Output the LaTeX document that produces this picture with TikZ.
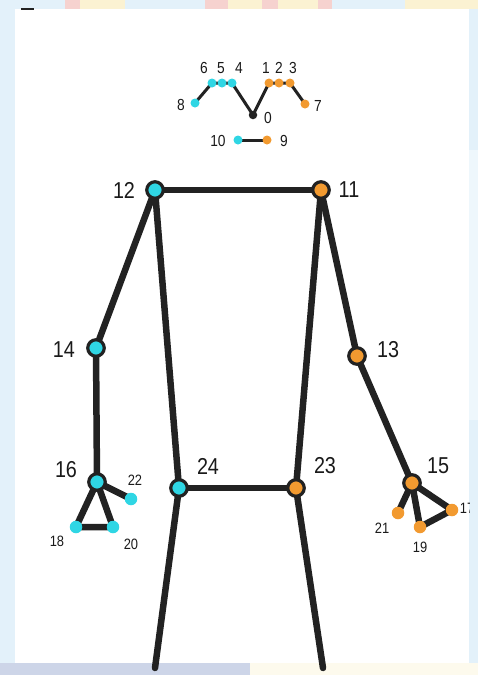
\documentclass[tikz,border=0pt]{standalone}
\usepackage{fontspec}
\setmainfont{Liberation Sans}[FakeStretch=0.86]
\definecolor{cyanc}{HTML}{2FD6E4}
\definecolor{orangec}{HTML}{F29A30}
\definecolor{linec}{HTML}{222222}
\definecolor{textc}{HTML}{1A1A1A}
\definecolor{bgblue}{HTML}{E3F1FA}
\definecolor{bgpink}{HTML}{F6D2CF}
\definecolor{bgyellow}{HTML}{FBF2D2}
\definecolor{bggrey}{HTML}{CDD5E8}
\pgfdeclarelayer{bg}
\pgfdeclarelayer{edges}
\pgfsetlayers{bg,edges,main}
\begin{document}
\begin{tikzpicture}[x=1pt,y=-1pt,
  bone/.style={line width=6.5pt, draw=linec, line cap=round, line join=round},
  facebone/.style={line width=3pt, draw=linec, line cap=round, line join=round},
  jcyan/.style={circle, fill=cyanc, draw=linec, line width=3.2pt, minimum size=16.5pt, inner sep=0pt},
  jorange/.style={circle, fill=orangec, draw=linec, line width=3.2pt, minimum size=16.5pt, inner sep=0pt},
  hcyan/.style={circle, fill=cyanc, minimum size=12.5pt, inner sep=0pt},
  horange/.style={circle, fill=orangec, minimum size=12.5pt, inner sep=0pt},
  fcyan/.style={circle, fill=cyanc, minimum size=9pt, inner sep=0pt},
  forange/.style={circle, fill=orangec, minimum size=9pt, inner sep=0pt},
  fblack/.style={circle, fill=linec, minimum size=8.5pt, inner sep=0pt},
  biglab/.style={text=textc, inner sep=0pt, font=\fontsize{23}{23}\selectfont},
  smalllab/.style={text=textc, inner sep=0pt, font=\fontsize{15}{15}\selectfont},
  facelab/.style={text=textc, inner sep=0pt, font=\fontsize{16}{16}\selectfont}]
\useasboundingbox (0,0) rectangle (478,675);
\begin{pgfonlayer}{bg}
  \fill[bgblue] (0,0) rectangle (478,675);
  \fill[bgpink] (65,0) rectangle (80,9);
  \fill[bgyellow] (80,0) rectangle (125,9);
  \fill[bgpink] (205,0) rectangle (228,9);
  \fill[bgyellow] (228,0) rectangle (262,9);
  \fill[bgpink] (262,0) rectangle (278,9);
  \fill[bgyellow] (278,0) rectangle (318,9);
  \fill[bgpink] (318,0) rectangle (332,9);
  \fill[bgyellow] (405,0) rectangle (478,9);
  \fill[bggrey] (0,663) rectangle (250,675);
  \fill[bgyellow!40!white] (250,663) rectangle (478,675);
  \fill[bgblue!60!white] (469,150) rectangle (478,420);
  \fill[white] (15,9) rectangle (469,663);
  \draw[linec, line width=1.5pt] (21,9) -- (34,9);
\end{pgfonlayer}

\begin{scope}
\clip (15,9) rectangle (469,663);
% face
\node[fcyan] (n6) at (212,83) {};
\node[fcyan] (n5) at (222,83) {};
\node[fcyan] (n4) at (232,83) {};
\node[forange] (n1) at (269,83) {};
\node[forange] (n2) at (279,83) {};
\node[forange] (n3) at (290,83) {};
\node[fcyan] (n8) at (195,103) {};
\node[forange] (n7) at (305,104) {};
\node[fblack] (n0) at (253,115) {};
\node[fcyan] (n10) at (238,140) {};
\node[forange] (n9) at (267,140) {};
\node[facelab] (l6) at (204,68) {6};
\node[facelab] (l5) at (221,68) {5};
\node[facelab] (l4) at (239,68) {4};
\node[facelab] (l1) at (266,68) {1};
\node[facelab] (l2) at (279,68) {2};
\node[facelab] (l3) at (293,68) {3};
\node[facelab] (l8) at (181,105) {8};
\node[facelab] (l7) at (318,106) {7};
\node[facelab] (l0) at (268,118) {0};
\node[facelab] (l10) at (218,141) {10};
\node[facelab] (l9) at (284,141) {9};

% body
\node[jcyan] (n12) at (155,190) {};
\node[jorange] (n11) at (321,190) {};
\node[jcyan] (n14) at (96,348) {};
\node[jorange] (n13) at (357,356) {};
\node[jcyan] (n16) at (97,482) {};
\node[jcyan] (n24) at (179,488) {};
\node[jorange] (n23) at (296,488) {};
\node[jorange] (n15) at (412,483) {};
\node[hcyan] (n22) at (131,499) {};
\node[hcyan] (n18) at (76,527) {};
\node[hcyan] (n20) at (113,527) {};
\node[horange] (n21) at (398,513) {};
\node[horange] (n19) at (420,527) {};
\node[horange] (n17) at (452,510) {};
\coordinate (leftfoot) at (155,668);
\coordinate (rightfoot) at (323,668);

\node[biglab] (l12) at (124,190) {12};
\node[biglab] (l11) at (349,190) {11};
\node[biglab] (l14) at (64,350) {14};
\node[biglab] (l13) at (388,350) {13};
\node[biglab] (l16) at (66,470) {16};
\node[biglab] (l24) at (208,466) {24};
\node[biglab] (l23) at (325,466) {23};
\node[biglab] (l15) at (438,466) {15};
\node[smalllab] (l22) at (135,480) {22};
\node[smalllab] (l18) at (57,541) {18};
\node[smalllab] (l20) at (131,544) {20};
\node[smalllab] (l21) at (382,528) {21};
\node[smalllab] (l19) at (420,547) {19};
\node[smalllab] (l17) at (467,508) {17};

\begin{pgfonlayer}{edges}
  \draw[facebone] (n8.center) -- (n6.center) -- (n4.center) -- (n0.center) -- (n1.center) -- (n3.center) -- (n7.center);
  \draw[facebone] (n10.center) -- (n9.center);
  \draw[bone] (n12.center) -- (n11.center);
  \draw[bone] (n12.center) -- (n14.center) -- (n16.center);
  \draw[bone] (n11.center) -- (n13.center) -- (n15.center);
  \draw[bone] (n12.center) -- (n24.center);
  \draw[bone] (n11.center) -- (n23.center);
  \draw[bone] (n24.center) -- (n23.center);
  \draw[bone] (n24.center) -- (leftfoot);
  \draw[bone] (n23.center) -- (rightfoot);
  \draw[bone] (n16.center) -- (n18.center) -- (n20.center) -- (n16.center);
  \draw[bone] (n16.center) -- (n22.center);
  \draw[bone] (n15.center) -- (n21.center);
  \draw[bone] (n15.center) -- (n19.center) -- (n17.center) -- (n15.center);
\end{pgfonlayer}
\end{scope}
\end{tikzpicture}
\end{document}
